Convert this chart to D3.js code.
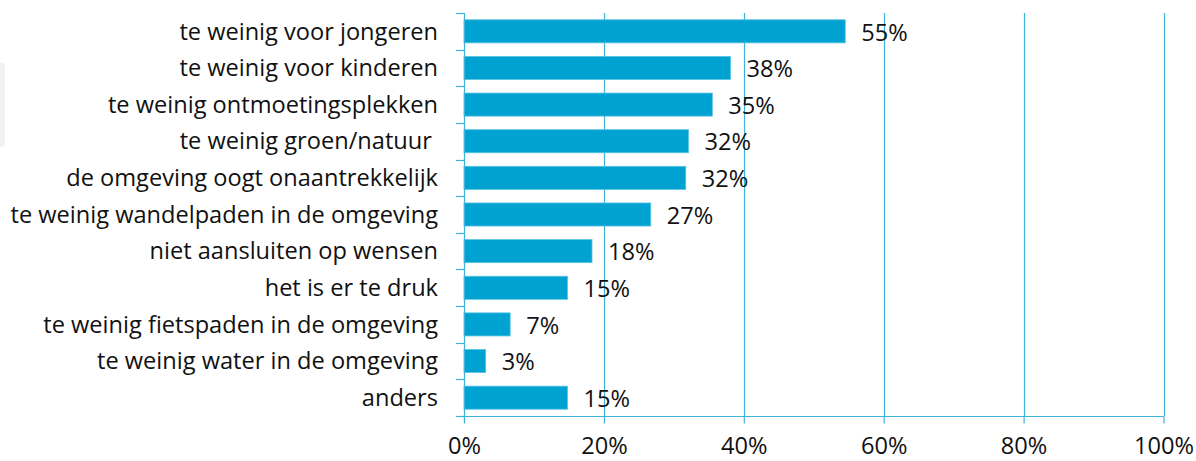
<!DOCTYPE html>
<html>
<head>
<meta charset="utf-8">
<script src="https://cdn.jsdelivr.net/npm/d3@7"></script>
<style>
  body { margin: 0; background: #fff; }
  svg { display: block; font-family: "Open Sans", sans-serif; }
</style>
</head>
<body>
<svg id="chart" width="1196" height="461"></svg>
<script>
var categories = [
    "te weinig voor jongeren",
    "te weinig voor kinderen",
    "te weinig ontmoetingsplekken",
    "te weinig groen/natuur ",
    "de omgeving oogt onaantrekkelijk",
    "te weinig wandelpaden in de omgeving",
    "niet aansluiten op wensen",
    "het is er te druk",
    "te weinig fietspaden in de omgeving",
    "te weinig water in de omgeving",
    "anders"
];
var values = [54.5, 38.1, 35.5, 32.1, 31.7, 26.7, 18.3, 14.8, 6.6, 3.1, 14.8];
var valueLabels = ["55%", "38%", "35%", "32%", "32%", "27%", "18%", "15%", "7%", "3%", "15%"];
var xTicks = [0, 20, 40, 60, 80, 100];

var margin = { top: 13, right: 32, bottom: 45, left: 464 };
var width = 1196, height = 461;
var fontSize = "23.6px";
var barColor = "#00a2d2";
var lineColor = "#3cb2dc";

var svg = d3.select("#chart");

// stray grey panel at the left edge of the original
svg.append("rect")
    .attr("x", -6).attr("y", 63).attr("width", 11).attr("height", 84)
    .attr("rx", 4)
    .style("fill", "#f1f1f1");

var x = d3.scaleLinear().domain([0, 100]).range([margin.left, width - margin.right - 0.5]);
var y = d3.scaleBand().domain(categories).range([margin.top, height - margin.bottom]).paddingInner(0.37).paddingOuter(0.185);

// vertical gridlines
svg.append("g").attr("class", "grid")
    .selectAll("line")
    .data(xTicks.slice(1))
    .enter().append("line")
    .attr("x1", function(d) { return Math.round(x(d)) + 0.5; })
    .attr("x2", function(d) { return Math.round(x(d)) + 0.5; })
    .attr("y1", margin.top)
    .attr("y2", height - margin.bottom)
    .style("stroke", lineColor)
    .style("stroke-width", 1.2);

// bars
svg.append("g").selectAll("rect")
    .data(values)
    .enter().append("rect")
    .attr("x", x(0))
    .attr("y", function(d, i) { return y(categories[i]); })
    .attr("width", function(d) { return x(d) - x(0); })
    .attr("height", y.bandwidth())
    .style("fill", barColor)
    .style("stroke", "#5cc3e3")
    .style("stroke-width", 0.8);

// value labels
svg.append("g").selectAll("text")
    .data(values)
    .enter().append("text")
    .attr("x", function(d) { return x(d) + 16; })
    .attr("y", function(d, i) { return y(categories[i]) + y.bandwidth() / 2 + 1; })
    .attr("dy", "0.35em")
    .style("font-size", fontSize)
    .style("fill", "#111")
    .text(function(d, i) { return valueLabels[i]; });

// category labels
svg.append("g").selectAll("text")
    .data(categories)
    .enter().append("text")
    .attr("x", margin.left - 26)
    .attr("y", function(d) { return y(d) + y.bandwidth() / 2; })
    .attr("dy", "0.35em")
    .attr("text-anchor", "end")
    .style("font-size", fontSize)
    .style("fill", "#111")
    .style("white-space", "pre")
    .text(function(d) { return d; });

// left axis line with category boundary ticks
var bottomY = height - margin.bottom;
var leftAxis = svg.append("g").style("stroke", lineColor).style("stroke-width", 1.2);
leftAxis.append("line")
    .attr("x1", margin.left + 0.5).attr("x2", margin.left + 0.5)
    .attr("y1", margin.top).attr("y2", bottomY + 7);
var boundaries = d3.range(categories.length + 1).map(function(i) { return margin.top + i * (bottomY - margin.top) / categories.length; });
leftAxis.selectAll("line.tick")
    .data(boundaries)
    .enter().append("line")
    .attr("class", "tick")
    .attr("x1", margin.left - 8).attr("x2", margin.left + 0.5)
    .attr("y1", function(d) { return Math.round(d) + 0.5; })
    .attr("y2", function(d) { return Math.round(d) + 0.5; });

// bottom axis
var xAxis = d3.axisBottom(x)
    .tickValues(xTicks)
    .tickSize(7)
    .tickFormat(function(d) { return d + "%"; });
var gx = svg.append("g")
    .attr("transform", "translate(0," + (bottomY + 0.5) + ")")
    .call(xAxis);
gx.select(".domain").attr("d", "M" + (margin.left - 8) + ",0H" + (x(100) + 0.5)).style("stroke", lineColor).style("stroke-width", 1.2);
gx.selectAll(".tick line").style("stroke", lineColor).style("stroke-width", 1.2);
gx.selectAll(".tick text")
    .attr("y", 29)
    .attr("dy", "0.35em")
    .style("font-size", fontSize)
    .style("font-family", "'Open Sans', sans-serif")
    .style("fill", "#111");
</script>
</body>
</html>
